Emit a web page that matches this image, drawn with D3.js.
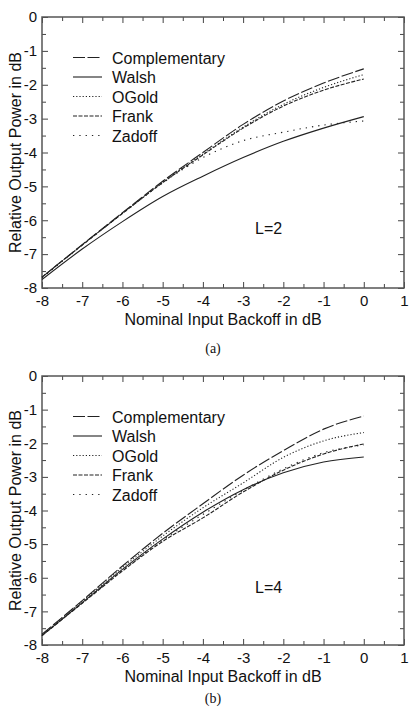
<!DOCTYPE html>
<html>
<head>
<meta charset="utf-8">
<script src="https://cdn.jsdelivr.net/npm/d3@7"></script>
<style>
  body { margin: 0; background: #fff; }
  svg { display: block; }
</style>
</head>
<body>
<div id="chart"></div>
<script>
// nominal input backoff (dB)
const backoff = [-8, -7, -6, -5, -4, -3, -2, -1, 0];

const seriesNames = ["Complementary", "Walsh", "OGold", "Frank", "Zadoff"];

// L = 2
const complementaryL2 = [-7.68, -6.72, -5.78, -4.85, -4.0, -3.17, -2.48, -1.95, -1.53];
const walshL2 = [-7.75, -6.85, -6.04, -5.3, -4.7, -4.15, -3.67, -3.28, -2.94];
const ogoldL2 = [-7.68, -6.73, -5.79, -4.88, -4.05, -3.25, -2.58, -2.08, -1.7];
const frankL2 = [-7.68, -6.73, -5.8, -4.89, -4.07, -3.28, -2.63, -2.16, -1.83];
const zadoffL2 = [-7.7, -6.74, -5.8, -4.9, -4.15, -3.65, -3.4, -3.19, -3.07];

// L = 4
const complementaryL4 = [-7.68, -6.68, -5.65, -4.68, -3.8, -2.95, -2.22, -1.58, -1.19];
const walshL4 = [-7.72, -6.74, -5.75, -4.85, -4.05, -3.38, -2.88, -2.56, -2.41];
const ogoldL4 = [-7.7, -6.7, -5.7, -4.76, -3.92, -3.18, -2.42, -1.93, -1.68];
const frankL4 = [-7.72, -6.76, -5.8, -4.92, -4.22, -3.45, -2.8, -2.32, -2.02];
const zadoffL4 = [-7.72, -6.75, -5.78, -4.88, -4.12, -3.4, -2.76, -2.28, -2.05];

const xTicks = [-8, -7, -6, -5, -4, -3, -2, -1, 0, 1];
const yTicks = [0, -1, -2, -3, -4, -5, -6, -7, -8];

const dashes = {
  Complementary: "12,2.5",
  Walsh: null,
  OGold: "1.2,2",
  Frank: "4,1.5",
  Zadoff: "1.3,5"
};

const width = 412;
const height = 708;

const svg = d3.select("#chart").append("svg")
  .attr("width", width)
  .attr("height", height)
  .style("font-family", "'Liberation Sans', Arial, Helvetica, sans-serif");

function drawPanel(top, bottom, seriesValues, label, caption, captionY) {
  const left = 42, right = 404;

  const x = d3.scaleLinear().domain([-8, 1]).range([left, right]);
  const y = d3.scaleLinear().domain([-8, 0]).range([bottom, top]);

  const halfX = d3.range(-7.5, 1, 1);
  const halfY = d3.range(-7.5, 0, 1);

  // ticks, all pointing inward
  const axes = [
    [d3.axisBottom(x).tickValues(xTicks).tickSize(-6).tickPadding(7).tickFormat(d => String(d)), `translate(0,${bottom})`, true],
    [d3.axisBottom(x).tickValues(halfX).tickSize(-4).tickFormat(""), `translate(0,${bottom})`, false],
    [d3.axisTop(x).tickValues(xTicks).tickSize(-6).tickFormat(""), `translate(0,${top})`, false],
    [d3.axisTop(x).tickValues(halfX).tickSize(-4).tickFormat(""), `translate(0,${top})`, false],
    [d3.axisLeft(y).tickValues(yTicks).tickSize(-6).tickPadding(5).tickFormat(d => String(d)), `translate(${left},0)`, true],
    [d3.axisLeft(y).tickValues(halfY).tickSize(-4).tickFormat(""), `translate(${left},0)`, false],
    [d3.axisRight(y).tickValues(yTicks).tickSize(-6).tickFormat(""), `translate(${right},0)`, false],
    [d3.axisRight(y).tickValues(halfY).tickSize(-4).tickFormat(""), `translate(${right},0)`, false]
  ];

  axes.forEach(([axis, tr, labels]) => {
    const g = svg.append("g").attr("transform", tr).call(axis);
    g.select(".domain").remove();
    g.selectAll(".tick line").attr("stroke", "#444").attr("stroke-width", 1);
    if (labels) {
      g.selectAll(".tick text")
        .attr("fill", "#111")
        .attr("font-size", 15)
        .attr("font-family", "'Liberation Sans', Arial, sans-serif");
    }
  });

  svg.append("rect")
    .attr("x", left)
    .attr("y", top)
    .attr("width", right - left)
    .attr("height", bottom - top)
    .attr("fill", "none")
    .attr("stroke", "#555")
    .attr("stroke-width", 1.5);

  const line = d3.line()
    .x((d, i) => x(backoff[i]))
    .y(d => y(d))
    .curve(d3.curveMonotoneX);

  seriesNames.forEach((name, i) => {
    svg.append("path")
      .datum(seriesValues[i])
      .attr("d", line)
      .attr("fill", "none")
      .attr("stroke", "#222")
      .attr("stroke-width", 1.1)
      .attr("stroke-dasharray", dashes[name]);
  });

  // legend
  const legend = svg.append("g")
    .attr("transform", `translate(0, ${top + 40.5})`);

  const rows = legend.selectAll("g")
    .data(seriesNames)
    .join("g")
    .attr("transform", (d, i) => `translate(0, ${i * 19.5})`);

  rows.append("line")
    .attr("x1", 73)
    .attr("x2", 102)
    .attr("stroke", "#222")
    .attr("stroke-width", 1.1)
    .attr("stroke-dasharray", d => dashes[d]);

  rows.append("text")
    .attr("x", 112)
    .attr("y", 6)
    .attr("font-size", 16)
    .attr("fill", "#111")
    .text(d => d);

  svg.append("text")
    .attr("x", 255)
    .attr("y", top + 217)
    .attr("font-size", 16)
    .attr("fill", "#111")
    .text(label);

  // axis titles
  svg.append("text")
    .attr("x", (left + right) / 2)
    .attr("y", bottom + 37)
    .attr("text-anchor", "middle")
    .attr("font-size", 16)
    .attr("fill", "#111")
    .text("Nominal Input Backoff in dB");

  svg.append("text")
    .attr("transform", `translate(21, ${(top + bottom) / 2}) rotate(-90)`)
    .attr("text-anchor", "middle")
    .attr("font-size", 16)
    .attr("fill", "#111")
    .text("Relative Output Power in dB");

  svg.append("text")
    .attr("x", 213)
    .attr("y", captionY)
    .attr("text-anchor", "middle")
    .attr("font-size", 14)
    .attr("font-family", "'Liberation Serif', 'Times New Roman', serif")
    .attr("fill", "#111")
    .text(caption);
}

drawPanel(17, 288, [complementaryL2, walshL2, ogoldL2, frankL2, zadoffL2], "L=2", "(a)", 353);
drawPanel(376, 645, [complementaryL4, walshL4, ogoldL4, frankL4, zadoffL4], "L=4", "(b)", 703);
</script>
</body>
</html>
